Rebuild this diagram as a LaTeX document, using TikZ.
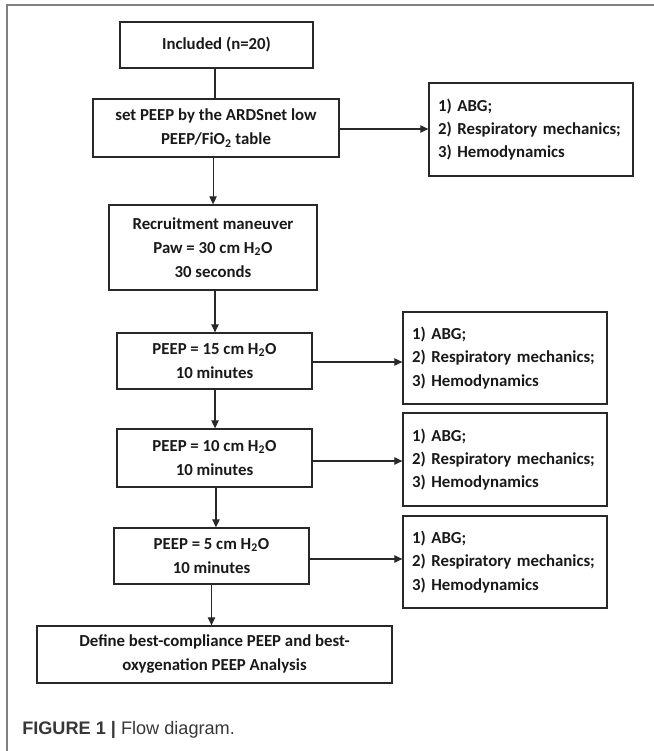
\documentclass[tikz,border=0pt]{standalone}
\usepackage{fontspec}
\setmainfont{Carlito}
\newfontfamily\capfont{Liberation Sans}
\usetikzlibrary{arrows.meta}
\definecolor{framegray}{RGB}{128,128,128}
\definecolor{boxline}{RGB}{40,40,40}
\definecolor{captxt}{RGB}{55,55,55}
\tikzset{
  flowbox/.style={draw=boxline, line width=0.95pt, align=center, inner sep=2pt,
    font=\fontsize{12.6}{18}\selectfont\bfseries, text=black!90},
  listbox/.style={draw=boxline, line width=0.95pt, align=left, inner xsep=6.75pt, inner ysep=2pt,
    text width=139.5pt, minimum width=153pt,
    font=\fontsize{12.6}{17.5}\selectfont\bfseries, text=black!90},
  conn/.style={draw=boxline, line width=0.85pt},
  arr/.style={conn, -{Triangle[length=6pt,width=5.5pt]}},
}
\begin{document}
\begin{tikzpicture}[x=0.75pt,y=-0.75pt]
\useasboundingbox (0,0) rectangle (654,751);
% frame
\draw[framegray, line width=1.5pt] (7,752) -- (7,4.5) -- (655,4.5);

% main column
\node[flowbox, minimum width=144.75pt, minimum height=34.5pt] (inc) at (216.5,45) {Included (n=20)};
\node[flowbox, minimum width=184.5pt, minimum height=43.5pt] (sp) at (216,128)
  {set PEEP by the ARDSnet low\\PEEP/FiO\textsubscript{2} table};
\node[flowbox, minimum width=156pt, minimum height=63.75pt] (rm) at (213,247.5)
  {Recruitment maneuver\\Paw = 30 cm H\textsubscript{2}O\\30 seconds};
\node[flowbox, minimum width=146.25pt, minimum height=42pt] (p15) at (214.5,361)
  {PEEP = 15 cm H\textsubscript{2}O\\10 minutes};
\node[flowbox, minimum width=146.25pt, minimum height=43.5pt] (p10) at (214.5,458)
  {PEEP = 10 cm H\textsubscript{2}O\\10 minutes};
\node[flowbox, minimum width=146.25pt, minimum height=42pt] (p5) at (211.5,556)
  {PEEP = 5 cm H\textsubscript{2}O\\10 minutes};
\node[flowbox, minimum width=266.25pt, minimum height=42.75pt] (def) at (214.5,654.5)
  {Define best-compliance PEEP and best-\\oxygenation PEEP Analysis};

% measurement boxes
\node[listbox, minimum height=69.75pt] (m1) at (531,129.5)
  {1) ABG;\\2) Respiratory mechanics;\\3) Hemodynamics};
\node[listbox, minimum height=69pt] (m2) at (505,358)
  {1) ABG;\\2) Respiratory mechanics;\\3) Hemodynamics};
\node[listbox, minimum height=69.75pt] (m3) at (505,459.5)
  {1) ABG;\\2) Respiratory mechanics;\\3) Hemodynamics};
\node[listbox, minimum height=69pt] (m4) at (505,562)
  {1) ABG;\\2) Respiratory mechanics;\\3) Hemodynamics};

% vertical connectors
\draw[conn] ([xshift=-1.1pt]inc.south) -- ([xshift=-1.1pt]inc.south |- sp.north);
\draw[arr] ([xshift=-2.2pt]sp.south) -- ([xshift=-2.2pt]sp.south |- rm.north);
\draw[arr] ([xshift=1.5pt]rm.south) -- ([xshift=1.5pt]rm.south |- p15.north);
\draw[arr] ([xshift=0.4pt]p15.south) -- ([xshift=0.4pt]p15.south |- p10.north);
\draw[arr] ([xshift=1.1pt]p10.south) -- ([xshift=1.1pt]p10.south |- p5.north);
\draw[arr] (p5.south) -- (p5.south |- def.north);

% horizontal connectors
\draw[arr] ([yshift=-0.75pt]sp.east) -- ([yshift=-0.75pt]sp.east -| m1.west);
\draw[arr] ([yshift=-0.75pt]p15.east) -- ([yshift=-0.75pt]p15.east -| m2.west);
\draw[arr] ([yshift=-2.25pt]p10.east) -- ([yshift=-2.25pt]p10.east -| m3.west);
\draw[arr] ([yshift=-2.25pt]p5.east) -- ([yshift=-2.25pt]p5.east -| m4.west);

% caption
\node[anchor=west, inner sep=0pt, text=captxt, font=\capfont\fontsize{13.6}{15}\selectfont] (cap) at (22,729.5)
  {{\bfseries FIGURE 1 | }Flow diagram.};
\end{tikzpicture}
\end{document}
